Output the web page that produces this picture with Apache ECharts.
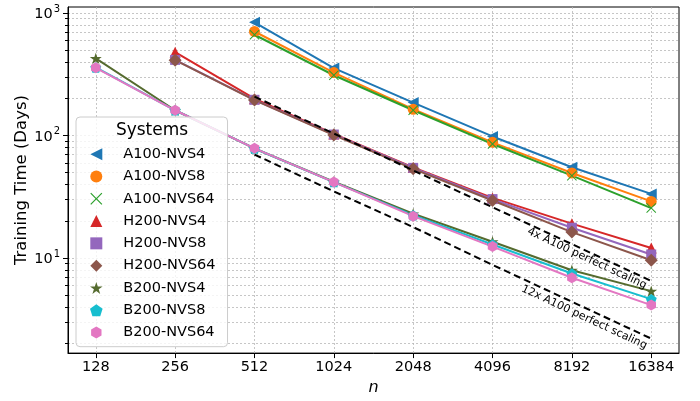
<!DOCTYPE html>
<html>
<head>
<meta charset="utf-8">
<script src="https://cdn.jsdelivr.net/npm/echarts@6/dist/echarts.min.js"></script>
<style>
html,body{margin:0;padding:0;background:#fff;}
#chart{width:700px;height:401px;}
</style>
</head>
<body>
<div id="chart"></div>
<script>
// ---------- data ----------
const nValues = [128, 256, 512, 1024, 2048, 4096, 8192, 16384];
const xTickLabels = ['128', '256', '512', '1024', '2048', '4096', '8192', '16384'];
const yTickExponents = [1, 2, 3];

const A100_NVS4  = [null, null, 841, 356, 186, 98.4, 55.1, 33.4];
const A100_NVS8  = [null, null, 708, 327, 164, 88.1, 49.5, 29.0];
const A100_NVS64 = [null, null, 666, 311, 161, 85.3, 47.1, 25.6];
const H200_NVS4  = [null, 480, 200, 103, 55.0, 31.0, 19.1, 12.1];
const H200_NVS8  = [null, 415, 196, 102, 54.5, 30.3, 17.7, 10.7];
const H200_NVS64 = [null, 413, 195, 101, 53.5, 29.5, 16.3, 9.6];
const B200_NVS4  = [427, 161, 78.5, 42.0, 23.0, 13.6, 7.96, 5.37];
const B200_NVS8  = [360, 161, 78.5, 41.7, 22.4, 12.9, 7.48, 4.62];
const B200_NVS64 = [358, 161, 78.7, 41.7, 22.0, 12.4, 6.9, 4.13];
const scaling4x  = [null, null, 208, 104, 52, 26, 13, 6.5];
const scaling12x = [null, null, 70, 35, 17.9, 8.8, 4.4, 2.2];

const seriesNames = ['A100-NVS4','A100-NVS8','A100-NVS64','H200-NVS4','H200-NVS8','H200-NVS64','B200-NVS4','B200-NVS8','B200-NVS64'];
const seriesValues = [A100_NVS4, A100_NVS8, A100_NVS64, H200_NVS4, H200_NVS8, H200_NVS64, B200_NVS4, B200_NVS8, B200_NVS64];
const annotationTexts = ['4x A100 perfect scaling', '12x A100 perfect scaling'];

// ---------- styles ----------
const FONT = 'DejaVu Sans';
const colors = ['#1f77b4','#ff7f0e','#2ca02c','#d62728','#9467bd','#8c564b','#556b2f','#17becf','#e377c2'];

function regPath(n, inner, startDeg) {
  const pts = [];
  const count = inner ? n * 2 : n;
  for (let i = 0; i < count; i++) {
    const r = inner ? (i % 2 === 0 ? 50 : 50 * inner) : 50;
    const ang = (startDeg + i * 360 / count) * Math.PI / 180;
    pts.push((50 + r * Math.cos(ang)).toFixed(2) + ',' + (50 + r * Math.sin(ang)).toFixed(2));
  }
  return 'path://M' + pts.join(' L') + ' Z';
}
const a = 7;
const xPath = 'path://M0,' + a + ' L' + a + ',0 L50,' + (50 - a) + ' L' + (100 - a) + ',0 L100,' + a +
  ' L' + (50 + a) + ',50 L100,' + (100 - a) + ' L' + (100 - a) + ',100 L50,' + (50 + a) + ' L' + a + ',100 L0,' + (100 - a) + ' L' + (50 - a) + ',50 Z';

const symbols = [
  'path://M0,50 L100,0 L100,100 Z',
  'circle',
  xPath,
  'path://M50,0 L100,100 L0,100 Z',
  'path://M0,0 L100,0 L100,100 L0,100 Z',
  'path://M50,0 L100,50 L50,100 L0,50 Z',
  regPath(5, 0.381966, -90),
  regPath(5, 0, -90),
  regPath(6, 0, -90)
];
const symbolSizes = [11, 11, 10, 11, 10, 13, 12, 11, 11];

const gridLine = { color: '#b8b8b8', width: 0.8, type: [2, 2] };

// ---------- axes helpers ----------
const xMin = 6.65, xMax = 14.35;
const yMin = 0.224, yMax = 3.05;
const xTickPos = nValues.map(n => Math.log2(n));
const yMajor = yTickExponents.slice();
const yMinor = [];
for (let e = 0; e <= 3; e++) {
  for (let k = 2; k <= 9; k++) {
    const v = Math.log10(k * Math.pow(10, e));
    if (v >= yMin && v <= yMax) yMinor.push(v);
  }
}

function toPoints(vals) {
  const out = [];
  vals.forEach((v, i) => { if (v != null) out.push([Math.log2(nValues[i]), Math.log10(v)]); });
  return out;
}

const series = seriesValues.map((vals, i) => ({
  name: seriesNames[i],
  type: 'line',
  data: toPoints(vals),
  symbol: symbols[i],
  symbolSize: symbolSizes[i],
  symbolKeepAspect: true,
  showSymbol: true,
  animation: false,
  lineStyle: { color: colors[i], width: 2 },
  itemStyle: { color: colors[i] },
  emphasis: { disabled: true },
  z: 3
}));

function scalingSeries(vals, text, anchor) {
  return {
    name: text,
    type: 'line',
    data: toPoints(vals),
    showSymbol: false,
    symbol: 'none',
    animation: false,
    lineStyle: { color: '#000', width: 2, type: [7, 4] },
    emphasis: { disabled: true },
    z: 4,
    markPoint: {
      symbol: 'circle',
      symbolSize: 0,
      animation: false,
      data: [{ coord: anchor }],
      label: {
        show: true,
        position: 'inside',
        formatter: text,
        rotate: -25,
        color: '#000',
        fontFamily: FONT,
        fontSize: 11
      }
    }
  };
}
series.push(scalingSeries(scaling4x, annotationTexts[0], [13.19, 0.996]));
series.push(scalingSeries(scaling12x, annotationTexts[1], [13.155, 0.516]));

const chart = echarts.init(document.getElementById('chart'), null, { renderer: 'canvas' });
chart.setOption({
  animation: false,
  backgroundColor: '#fff',
  grid: {
    left: 68, right: 21, top: 7, bottom: 46,
    show: true, borderColor: '#000', borderWidth: 1, backgroundColor: 'transparent'
  },
  xAxis: {
    type: 'value', min: xMin, max: xMax,
    name: 'n', nameLocation: 'middle', nameGap: 24,
    nameTextStyle: { fontFamily: FONT, fontSize: 16, fontStyle: 'italic', color: '#000' },
    axisLine: { show: true, onZero: false, lineStyle: { color: '#000', width: 1 } },
    axisTick: { show: true, length: 5, customValues: xTickPos, lineStyle: { color: '#000' } },
    axisLabel: {
      customValues: xTickPos, margin: 7,
      fontFamily: FONT, fontSize: 14.5, color: '#000',
      formatter: v => xTickLabels[xTickPos.findIndex(p => Math.abs(p - v) < 1e-6)]
    },
    splitLine: { show: true, lineStyle: gridLine }
  },
  yAxis: [{
    type: 'value', min: yMin, max: yMax, position: 'left',
    name: 'Training Time (Days)', nameLocation: 'middle', nameGap: 38,
    nameMoveOverlap: false,
    nameTextStyle: { fontFamily: FONT, fontSize: 16.5, color: '#000' },
    axisLine: { show: true, onZero: false, lineStyle: { color: '#000', width: 1 } },
    axisTick: { show: true, length: 5, customValues: yMajor, lineStyle: { color: '#000' } },
    axisLabel: {
      customValues: yMajor, margin: 8,
      formatter: v => '{b|10}{s|' + Math.round(v) + '}',
      rich: {
        b: { fontFamily: FONT, fontSize: 14.5, color: '#000', verticalAlign: 'bottom' },
        s: { fontFamily: FONT, fontSize: 10, color: '#000', verticalAlign: 'bottom', padding: [0, 0, 8, 1] }
      }
    },
    splitLine: { show: true, lineStyle: gridLine }
  }, {
    type: 'value', min: yMin, max: yMax, position: 'left',
    axisLine: { show: false },
    axisTick: { show: true, length: 3, customValues: yMinor, lineStyle: { color: '#000' } },
    axisLabel: { show: false },
    splitLine: { show: true, lineStyle: gridLine }
  }],
  legend: {
    orient: 'vertical', left: 76, top: 117,
    padding: [26, 12, 3, 14],
    itemWidth: 44, itemHeight: 12, itemGap: 0,
    selectedMode: false,
    backgroundColor: 'rgba(255,255,255,0.8)',
    borderColor: '#cccccc', borderWidth: 1, borderRadius: 4,
    textStyle: { fontFamily: FONT, fontSize: 14.5, color: '#000', lineHeight: 22.3 },
    data: seriesNames.map((n, i) => ({ name: n, icon: symbols[i] })),
    z: 10
  },
  graphic: [{
    type: 'text', x: 152, y: 131, z: 100,
    style: { text: 'Systems', x: 0, y: 0, align: 'center', verticalAlign: 'middle',
      font: '17px "DejaVu Sans"', fill: '#000' }
  }],
  series: series
});
</script>
</body>
</html>
